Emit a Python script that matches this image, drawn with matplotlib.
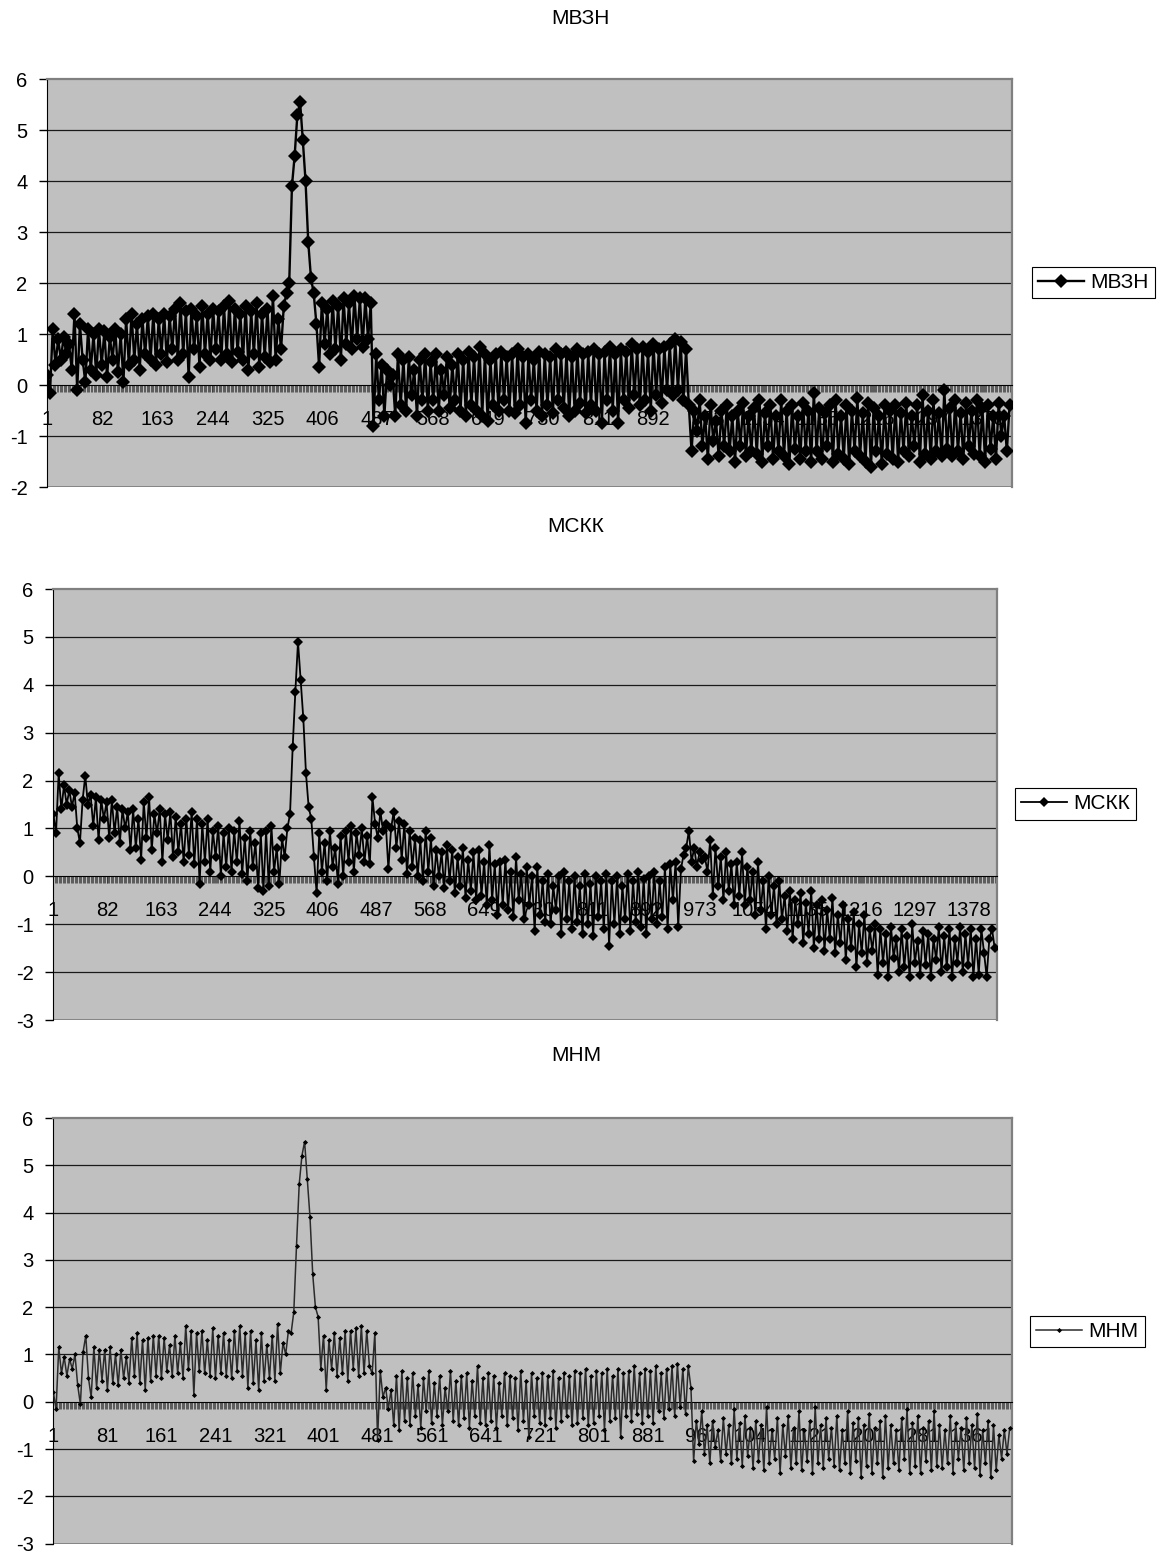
import numpy as np
import matplotlib
matplotlib.use('Agg')
import matplotlib.pyplot as plt

plt.rcParams['font.family'] = ['Liberation Sans', 'DejaVu Sans']
plt.rcParams['axes.unicode_minus'] = False

n_points = 1420
step = 4  # every 4th point

ticks_a = [1, 82, 163, 244, 325, 406, 487, 568, 649, 730, 811, 892, 973, 1054, 1135, 1216, 1297, 1378]
ticks_b = [1, 81, 161, 241, 321, 401, 481, 561, 641, 721, 801, 881, 961, 1041, 1121, 1201, 1281, 1361]

# МВЗН
mvzn = [
    0.2, -0.15, 1.1, 0.4, 0.9, 0.5, 0.95, 0.6, 0.8, 0.3,
    1.4, -0.1, 1.2, 0.5, 0.05, 1.1, 0.3, 1.0, 0.2, 1.1,
    0.4, 1.05, 0.15, 0.95, 0.5, 1.1, 0.25, 1.0, 0.05, 1.3,
    0.4, 1.4, 0.5, 1.2, 0.3, 1.3, 0.6, 1.35, 0.5, 1.4,
    0.4, 1.3, 0.6, 1.4, 0.45, 1.35, 0.7, 1.5, 0.5, 1.6,
    0.6, 1.45, 0.15, 1.5, 0.7, 1.35, 0.35, 1.55, 0.6, 1.4,
    0.5, 1.5, 0.7, 1.45, 0.5, 1.55, 0.6, 1.65, 0.45, 1.5,
    0.65, 1.4, 0.5, 1.55, 0.3, 1.45, 0.6, 1.6, 0.35, 1.4,
    0.55, 1.5, 0.45, 1.75, 0.5, 1.3, 0.7, 1.55, 1.8, 2.0,
    3.9, 4.5, 5.3, 5.55, 4.8, 4.0, 2.8, 2.1, 1.8, 1.2,
    0.35, 1.6, 0.8, 1.5, 0.6, 1.65, 0.7, 1.55, 0.5, 1.7,
    0.8, 1.6, 0.7, 1.75, 0.9, 1.7, 0.75, 1.7, 0.9, 1.6,
    -0.8, 0.6, -0.3, 0.4, -0.6, 0.3, 0.0, 0.2, -0.6, 0.6,
    -0.4, 0.5, -0.5, 0.55, -0.2, 0.3, -0.6, 0.5, -0.3, 0.6,
    -0.5, 0.45, -0.3, 0.6, -0.5, 0.3, -0.2, 0.55, -0.45, 0.4,
    -0.3, 0.6, -0.5, 0.5, -0.6, 0.65, -0.4, 0.55, -0.5, 0.75,
    -0.6, 0.6, -0.7, 0.5, -0.4, 0.6, -0.5, 0.65, -0.3, 0.55,
    -0.5, 0.6, -0.55, 0.7, -0.4, 0.55, -0.75, 0.6, -0.3, 0.5,
    -0.5, 0.65, -0.6, 0.6, -0.4, 0.55, -0.55, 0.7, -0.3, 0.6,
    -0.45, 0.65, -0.6, 0.55, -0.5, 0.7, -0.35, 0.6, -0.55, 0.65,
    -0.4, 0.7, -0.5, 0.6, -0.75, 0.65, -0.3, 0.75, -0.5, 0.6,
    -0.75, 0.7, -0.3, 0.65, -0.45, 0.8, -0.2, 0.7, -0.4, 0.75,
    -0.3, 0.65, -0.5, 0.8, -0.2, 0.7, -0.35, 0.75, -0.1, 0.8,
    -0.2, 0.9, -0.1, 0.85, -0.3, 0.7, -0.4, -1.3, -0.5, -0.9,
    -0.3, -1.2, -0.6, -1.45, -0.4, -1.1, -0.7, -1.4, -0.5, -1.2,
    -0.4, -1.3, -0.6, -1.5, -0.5, -1.2, -0.35, -1.4, -0.6, -1.3,
    -0.45, -1.35, -0.3, -1.5, -0.55, -1.2, -0.4, -1.45, -0.6, -1.3,
    -0.3, -1.4, -0.5, -1.55, -0.4, -1.25, -0.6, -1.45, -0.35, -1.3,
    -0.5, -1.5, -0.15, -1.3, -0.45, -1.45, -0.55, -1.2, -0.4, -1.5,
    -0.3, -1.35, -0.6, -1.45, -0.4, -1.55, -0.5, -1.3, -0.25, -1.4,
    -0.55, -1.5, -0.35, -1.6, -0.45, -1.3, -0.6, -1.55, -0.4, -1.35,
    -0.5, -1.45, -0.4, -1.5, -0.55, -1.3, -0.35, -1.4, -0.6, -1.2,
    -0.4, -1.5, -0.2, -1.35, -0.5, -1.45, -0.3, -1.3, -0.55, -1.4,
    -0.1, -1.25, -0.45, -1.4, -0.3, -1.3, -0.55, -1.45, -0.35, -1.2,
    -0.5, -1.35, -0.3, -1.4, -0.45, -1.5, -0.4, -1.25, -0.6, -1.45,
    -0.35, -1.0, -0.6, -1.3, -0.4,
]

# МСКК
mskk = [
    1.3, 0.9, 2.15, 1.4, 1.9, 1.5, 1.8, 1.45, 1.75, 1.0,
    0.7, 1.6, 2.1, 1.5, 1.7, 1.05, 1.65, 0.75, 1.6, 1.2,
    1.55, 0.8, 1.6, 0.9, 1.45, 0.7, 1.4, 1.0, 1.35, 0.55,
    1.4, 0.6, 1.2, 0.35, 1.55, 0.8, 1.65, 0.55, 1.3, 0.9,
    1.4, 0.3, 1.3, 0.75, 1.35, 0.4, 1.25, 0.5, 1.1, 0.3,
    1.2, 0.45, 1.35, 0.25, 1.2, -0.15, 1.1, 0.3, 1.2, 0.1,
    0.95, 0.4, 1.05, 0.0, 0.9, 0.2, 1.0, 0.1, 0.95, 0.3,
    1.15, 0.05, 0.8, -0.1, 0.95, 0.2, 0.7, -0.25, 0.9, -0.3,
    0.95, -0.2, 1.05, 0.1, 0.6, -0.15, 0.8, 0.4, 1.0, 1.3,
    2.7, 3.85, 4.9, 4.1, 3.3, 2.15, 1.45, 1.2, 0.4, -0.35,
    0.9, 0.1, 0.7, -0.1, 0.95, 0.2, 0.6, -0.15, 0.85, 0.0,
    0.95, 0.3, 1.05, 0.1, 0.9, 0.45, 1.0, 0.3, 0.85, 0.25,
    1.65, 1.1, 0.8, 1.35, 0.95, 1.1, 0.15, 1.0, 1.35, 0.6,
    1.15, 0.35, 1.1, 0.05, 0.95, 0.2, 0.8, 0.0, 0.75, -0.1,
    0.95, 0.1, 0.8, -0.2, 0.55, 0.0, 0.5, -0.25, 0.65, -0.1,
    0.55, -0.35, 0.4, -0.2, 0.6, -0.45, 0.35, -0.3, 0.5, -0.5,
    0.55, -0.4, 0.3, -0.6, 0.65, -0.5, 0.25, -0.8, 0.3, -0.6,
    0.35, -0.7, 0.1, -0.85, 0.4, -0.5, 0.05, -0.9, 0.2, -0.6,
    0.0, -1.15, 0.2, -0.8, -0.1, -0.95, 0.05, -1.0, -0.2, -0.7,
    0.0, -1.2, 0.1, -0.9, -0.1, -1.1, 0.0, -0.95, -0.2, -1.2,
    0.05, -1.0, -0.15, -1.25, 0.0, -0.85, -0.1, -1.1, 0.05, -1.45,
    -0.1, -1.0, 0.0, -1.2, -0.2, -0.9, 0.05, -1.15, -0.1, -0.95,
    0.1, -1.05, -0.05, -1.2, 0.0, -0.9, 0.1, -1.0, -0.1, -0.85,
    0.2, -1.1, 0.25, -0.5, 0.3, -1.05, 0.15, 0.45, 0.6, 0.95,
    0.3, 0.6, 0.2, 0.5, 0.35, 0.4, 0.1, 0.75, -0.4, 0.6,
    -0.2, 0.4, -0.5, 0.5, -0.3, 0.25, -0.6, 0.3, -0.4, 0.5,
    -0.6, 0.2, -0.5, 0.1, -0.8, 0.3, -0.7, -0.1, -1.1, 0.0,
    -0.8, -0.2, -1.0, -0.1, -0.9, -0.4, -1.15, -0.3, -1.3, -0.5,
    -1.0, -0.35, -1.4, -0.55, -1.2, -0.3, -1.5, -0.6, -1.3, -0.5,
    -1.55, -0.7, -1.3, -0.45, -1.6, -0.8, -1.4, -0.6, -1.75, -0.9,
    -1.5, -0.75, -1.9, -1.0, -1.6, -0.8, -1.8, -1.1, -1.55, -1.0,
    -2.05, -1.1, -1.8, -1.2, -2.1, -1.05, -1.7, -1.3, -2.0, -1.1,
    -1.9, -1.25, -2.1, -1.0, -1.8, -1.35, -2.05, -1.15, -1.85, -1.2,
    -2.1, -1.3, -1.75, -1.05, -2.0, -1.25, -1.9, -1.1, -2.1, -1.3,
    -1.8, -1.05, -2.0, -1.2, -1.85, -1.1, -2.1, -1.3, -2.05, -1.1,
    -1.6, -2.1, -1.3, -1.1, -1.5,
]

# МНМ
mnm = [
    0.2, -0.15, 1.15, 0.6, 0.95, 0.55, 0.9, 0.7, 1.0, 0.35,
    -0.05, 1.05, 1.4, 0.5, 0.1, 1.15, 0.3, 1.1, 0.45, 1.1,
    0.25, 1.15, 0.4, 1.0, 0.35, 1.1, 0.5, 0.95, 0.4, 1.35,
    0.55, 1.45, 0.4, 1.3, 0.25, 1.35, 0.45, 1.4, 0.55, 1.4,
    0.5, 1.35, 0.65, 1.2, 0.55, 1.4, 0.6, 1.25, 0.5, 1.6,
    0.7, 1.5, 0.15, 1.45, 0.65, 1.5, 0.6, 1.3, 0.55, 1.55,
    0.5, 1.4, 0.6, 1.45, 0.55, 1.3, 0.5, 1.5, 0.65, 1.6,
    0.55, 1.45, 0.3, 1.5, 0.4, 1.3, 0.25, 1.45, 0.45, 1.2,
    0.5, 1.4, 0.45, 1.65, 0.6, 1.25, 1.0, 1.5, 1.45, 1.9,
    3.3, 4.6, 5.2, 5.5, 4.7, 3.9, 2.7, 2.0, 1.8, 0.7,
    1.4, 0.25, 1.3, 0.7, 1.45, 0.55, 1.35, 0.6, 1.5, 0.45,
    1.5, 0.7, 1.55, 0.55, 1.6, 0.6, 1.5, 0.75, 0.6, 1.45,
    -0.8, 0.65, 0.1, 0.3, -0.15, 0.25, -0.5, 0.55, -0.6, 0.65,
    -0.4, 0.5, -0.5, 0.6, -0.3, 0.35, -0.55, 0.5, -0.2, 0.65,
    -0.45, 0.4, -0.3, 0.55, -0.5, 0.3, -0.2, 0.65, -0.4, 0.45,
    -0.5, 0.55, -0.35, 0.6, -0.55, 0.45, -0.3, 0.75, -0.45, 0.5,
    -0.5, 0.6, -0.4, 0.55, -0.55, 0.4, -0.3, 0.6, -0.5, 0.55,
    -0.35, 0.5, -0.6, 0.65, -0.4, 0.45, -0.75, 0.6, -0.3, 0.5,
    -0.45, 0.6, -0.5, 0.55, -0.35, 0.65, -0.55, 0.5, -0.4, 0.6,
    -0.3, 0.55, -0.5, 0.65, -0.45, 0.6, -0.35, 0.7, -0.5, 0.55,
    -0.45, 0.65, -0.3, 0.6, -0.6, 0.7, -0.4, 0.55, -0.35, 0.7,
    -0.75, 0.6, -0.3, 0.65, -0.4, 0.75, -0.25, 0.6, -0.45, 0.7,
    -0.3, 0.65, -0.45, 0.75, -0.2, 0.6, -0.35, 0.7, -0.15, 0.75,
    -0.3, 0.8, -0.1, 0.7, -0.25, 0.75, 0.3, -1.25, -0.4, -0.9,
    -0.2, -1.1, -0.5, -1.3, -0.4, -0.95, -0.6, -1.25, -0.35, -1.1,
    -0.5, -1.3, -0.15, -1.2, -0.45, -1.35, -0.3, -1.15, -0.55, -1.4,
    -0.4, -1.25, -0.5, -1.45, -0.1, -1.3, -0.6, -1.2, -0.35, -1.5,
    -0.5, -1.15, -0.3, -1.4, -0.55, -1.3, -0.2, -1.45, -0.6, -1.25,
    -0.4, -1.5, -0.1, -1.3, -0.5, -1.4, -0.35, -1.2, -0.55, -1.35,
    -0.3, -1.45, -0.6, -1.3, -0.2, -1.5, -0.45, -1.25, -0.35, -1.6,
    -0.5, -1.35, -0.25, -1.5, -0.55, -1.3, -0.4, -1.6, -0.3, -1.4,
    -0.5, -1.3, -0.6, -1.45, -0.35, -1.2, -0.15, -1.5, -0.45, -1.35,
    -0.3, -1.5, -0.55, -1.25, -0.4, -1.45, -0.2, -1.35, -0.5, -1.4,
    -0.6, -1.3, -0.3, -1.5, -0.45, -1.2, -0.55, -1.45, -0.35, -1.3,
    -0.5, -1.4, -0.25, -1.55, -0.6, -1.3, -0.4, -1.6, -0.5, -1.45,
    -0.7, -1.2, -0.6, -1.1, -0.55,
]


fig = plt.figure(figsize=(11.68, 15.53), dpi=100)


def panel(rect, name, title_xy, vals, yticks, xticks, style, legend_xy):
    ax = fig.add_axes(rect)
    ax.set_facecolor('#c0c0c0')
    x = 1 + step * np.arange(len(vals))
    ax.plot(x, vals, label=name, zorder=3, **style)

    ax.set_xlim(0.5, n_points + 0.5)
    ax.set_ylim(yticks[0], yticks[-1])
    ax.set_yticks(yticks)
    ax.set_yticklabels([str(v) for v in yticks])
    for v in yticks[1:-1]:
        if v != 0:
            ax.axhline(v, color='#1a1a1a', lw=0.9, zorder=1)
    ax.axhline(yticks[0], color='#808080', lw=2, zorder=1)

    ax.spines['bottom'].set_position(('data', 0))
    ax.spines['bottom'].set_color('black')
    ax.spines['left'].set_color('black')
    for s in ['top', 'right']:
        ax.spines[s].set_color('#808080')
        ax.spines[s].set_linewidth(1.6)

    ax.set_xticks(xticks)
    ax.set_xticklabels([str(t) for t in xticks])
    ax.set_xticks(np.arange(1, n_points + 1, 2), minor=True)
    ax.tick_params(axis='x', which='both', direction='out', length=5,
                   width=0.5, color='#333333', labelsize=14.5, pad=13)
    ax.tick_params(axis='y', direction='out', length=6, width=1,
                   labelsize=14.5, pad=8)

    fig.text(title_xy[0], title_xy[1], name, ha='center', va='center', fontsize=15)

    leg = ax.legend(loc='center left', bbox_to_anchor=legend_xy,
                    bbox_transform=fig.transFigure, fancybox=False,
                    edgecolor='black', framealpha=1, fontsize=15,
                    handlelength=2.2, handletextpad=0.3, borderpad=0.3,
                    borderaxespad=0)
    leg.get_frame().set_linewidth(0.8)
    return ax


panel([0.0402, 0.6864, 0.8262, 0.2627], 'МВЗН', (0.497, 0.988), mvzn,
      [-2, -1, 0, 1, 2, 3, 4, 5, 6], ticks_a,
      dict(color='black', lw=1.7, marker='D', markersize=6.8, markeredgewidth=0),
      (0.8836, 0.8181))

panel([0.0454, 0.3432, 0.8082, 0.2775], 'МСКК', (0.493, 0.661), mskk,
      [-3, -2, -1, 0, 1, 2, 3, 4, 5, 6], ticks_a,
      dict(color='black', lw=1.3, marker='D', markersize=4.8, markeredgewidth=0),
      (0.869, 0.4823))

panel([0.0454, 0.006, 0.8211, 0.2741], 'МНМ', (0.493, 0.3205), mnm,
      [-3, -2, -1, 0, 1, 2, 3, 4, 5, 6], ticks_b,
      dict(color='#2b2b2b', lw=1.1, marker='D', markersize=2.6,
           markerfacecolor='black', markeredgewidth=0),
      (0.8818, 0.1426))

fig.savefig('out.png', dpi=100, facecolor='white')
